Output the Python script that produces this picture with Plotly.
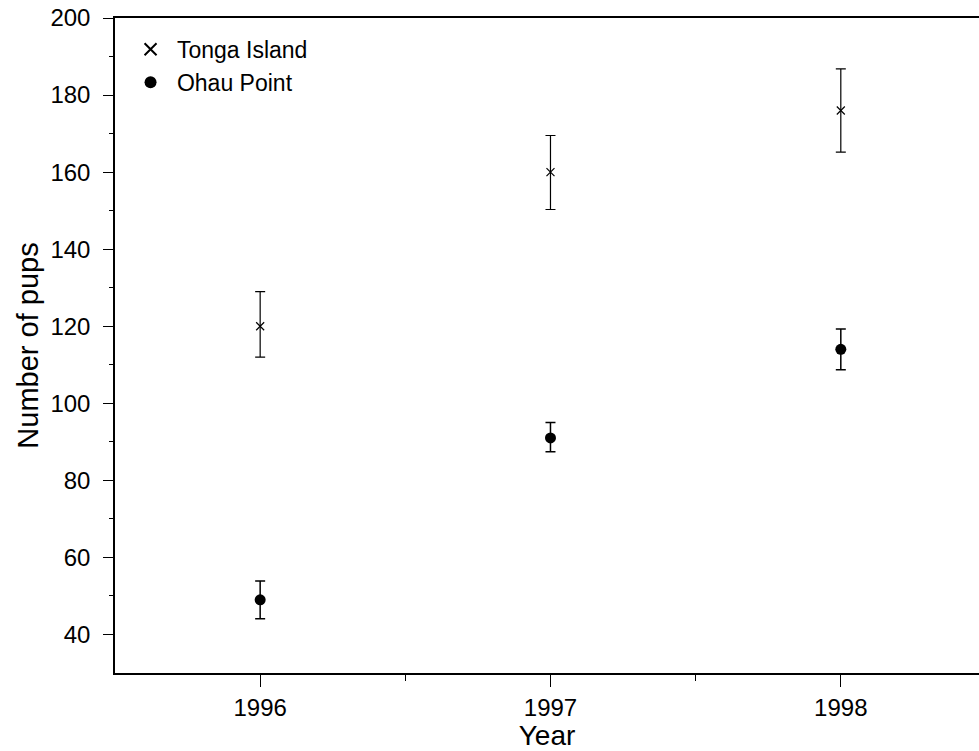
import plotly.graph_objects as go

years = [1996, 1997, 1998]
tonga = [120, 160, 176]
tonga_up = [9, 9.5, 10.8]
tonga_down = [8, 9.7, 10.8]
ohau = [49, 91, 114]
ohau_up = [4.9, 4, 5.3]
ohau_down = [4.9, 3.6, 5.3]

font = "Liberation Sans, Arial, Helvetica, sans-serif"

fig = go.Figure()
fig.add_trace(go.Scatter(
    x=years, y=tonga, mode="markers", name="\u00a0Tonga Island",
    marker=dict(symbol="x-thin", size=8, color="black", line=dict(width=1.2, color="black")),
    error_y=dict(type="data", symmetric=False, array=tonga_up, arrayminus=tonga_down,
                 color="black", thickness=1.2, width=5),
))
fig.add_trace(go.Scatter(
    x=years, y=ohau, mode="markers", name="\u00a0Ohau Point",
    marker=dict(symbol="circle", size=11, color="black"),
    error_y=dict(type="data", symmetric=False, array=ohau_up, arrayminus=ohau_down,
                 color="black", thickness=1.5, width=5),
))

fig.update_layout(
    width=979, height=751,
    margin=dict(l=115, r=0, t=18, b=76),
    paper_bgcolor="white", plot_bgcolor="white",
    font=dict(family=font, size=24, color="black"),
    showlegend=True,
    legend=dict(x=0.018, y=0.985, xanchor="left", yanchor="top",
                bgcolor="rgba(0,0,0,0)", font=dict(size=23), tracegroupgap=0,
                itemsizing="constant"),
    xaxis=dict(
        range=[1995.5, 1998.476], tickmode="array", tickvals=years,
        ticktext=[str(y) for y in years],
        showline=True, linecolor="black", linewidth=1.5, mirror=True,
        ticks="outside", ticklen=12, tickwidth=1.2, tickcolor="black",
        showgrid=False, zeroline=False,
        minor=dict(tickvals=[1996.5, 1997.5], ticks="outside", ticklen=6, tickcolor="black", tickwidth=1),
        title=dict(text="Year", font=dict(size=28), standoff=11),
    ),
    yaxis=dict(
        range=[30, 200], tickmode="array", tickvals=[40, 60, 80, 100, 120, 140, 160, 180, 200],
        showline=True, linecolor="black", linewidth=1.5, mirror=False,
        ticks="outside", ticklen=10, tickwidth=1.2, tickcolor="black",
        showgrid=False, zeroline=False, ticklabelstandoff=8,
        minor=dict(tickvals=[50, 70, 90, 110, 130, 150, 170, 190], ticks="outside", ticklen=4, tickcolor="black", tickwidth=1),
        title=dict(text="Number of pups", font=dict(size=29), standoff=3),
    ),
)

fig.write_html("out.html", config={"displayModeBar": False},
               post_script="document.body.style.margin='0';document.body.style.overflow='hidden';")
